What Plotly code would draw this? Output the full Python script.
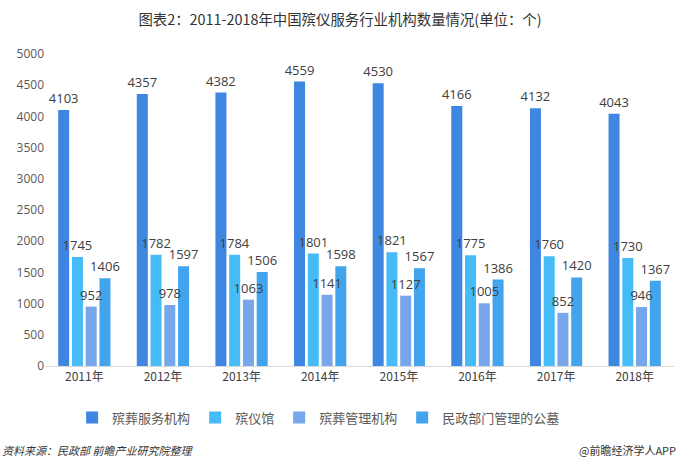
import plotly.graph_objects as go

years = ["2011年", "2012年", "2013年", "2014年", "2015年", "2016年", "2017年", "2018年"]
funeral_service = [4103, 4357, 4382, 4559, 4530, 4166, 4132, 4043]
funeral_home = [1745, 1782, 1784, 1801, 1821, 1775, 1760, 1730]
funeral_mgmt = [952, 978, 1063, 1141, 1127, 1005, 852, 946]
civil_cemetery = [1406, 1597, 1506, 1598, 1567, 1386, 1420, 1367]

series = [
    ("殡葬服务机构", funeral_service, "#3f86e0"),
    ("殡仪馆", funeral_home, "#45bbf7"),
    ("殡葬管理机构", funeral_mgmt, "#77a6ea"),
    ("民政部门管理的公墓", civil_cemetery, "#43a4ee"),
]

font_family = "Noto Sans CJK SC, Microsoft YaHei, sans-serif"

fig = go.Figure()
# Bars
for name, vals, color in series:
    fig.add_trace(go.Bar(
        x=years, y=vals, name=name,
        marker=dict(color=color, line=dict(width=0)),
        cliponaxis=False,
    ))
# Labels on an overlaid axis so they sit on top of all bars
for name, vals, color in series:
    fig.add_trace(go.Bar(
        x=years, y=vals, name=name, showlegend=False, hoverinfo="skip",
        xaxis="x2", yaxis="y2",
        marker=dict(color="rgba(0,0,0,0)", line=dict(width=0)),
        text=[str(v) for v in vals], textposition="outside",
        constraintext="none",
        textfont=dict(size=13, color="#404040", family="Open Sans, sans-serif"),
        cliponaxis=False,
    ))

fig.update_layout(
    width=680, height=471,
    paper_bgcolor="white", plot_bgcolor="white",
    margin=dict(l=45, r=6, t=54, b=105),
    font=dict(family=font_family, size=12, color="#595959"),
    barmode="group", bargap=0.3, bargroupgap=0.2,
    title=dict(text="图表2：2011-2018年中国殡仪服务行业机构数量情况(单位：个)",
               x=0.5, xanchor="center", y=1 - 20/471, yanchor="middle",
               font=dict(size=14.4, color="#333333")),
    xaxis=dict(showline=True, linecolor="#d9d9d9", linewidth=1, ticks="",
               tickfont=dict(size=12, color="#404040")),
    yaxis=dict(range=[0, 5000], dtick=500, showgrid=False, zeroline=False,
               showline=False, ticks="", tickfont=dict(size=12, color="#595959",
                                                      family="Open Sans, sans-serif")),
    xaxis2=dict(overlaying="x", matches="x", visible=False),
    yaxis2=dict(overlaying="y", range=[0, 5000], visible=False),
    legend=dict(orientation="h", x=0.435, xanchor="center", y=-0.165, yanchor="middle",
                font=dict(size=13, color="#595959"), itemwidth=30,
                traceorder="normal"),
    showlegend=True,
)

fig.add_annotation(text="<i>资料来源：民政部 前瞻产业研究院整理</i>", xref="paper", yref="paper",
                   x=-45/629, xanchor="left", y=-(450-366)/312, yanchor="middle",
                   showarrow=False, font=dict(size=11, color="#333333"))
fig.add_annotation(text="@前瞻经济学人APP", xref="paper", yref="paper",
                   x=1 + 4/629, xanchor="right", y=-(450-366)/312, yanchor="middle",
                   showarrow=False, font=dict(size=11, color="#333333"))

fig.write_html("out.html")
